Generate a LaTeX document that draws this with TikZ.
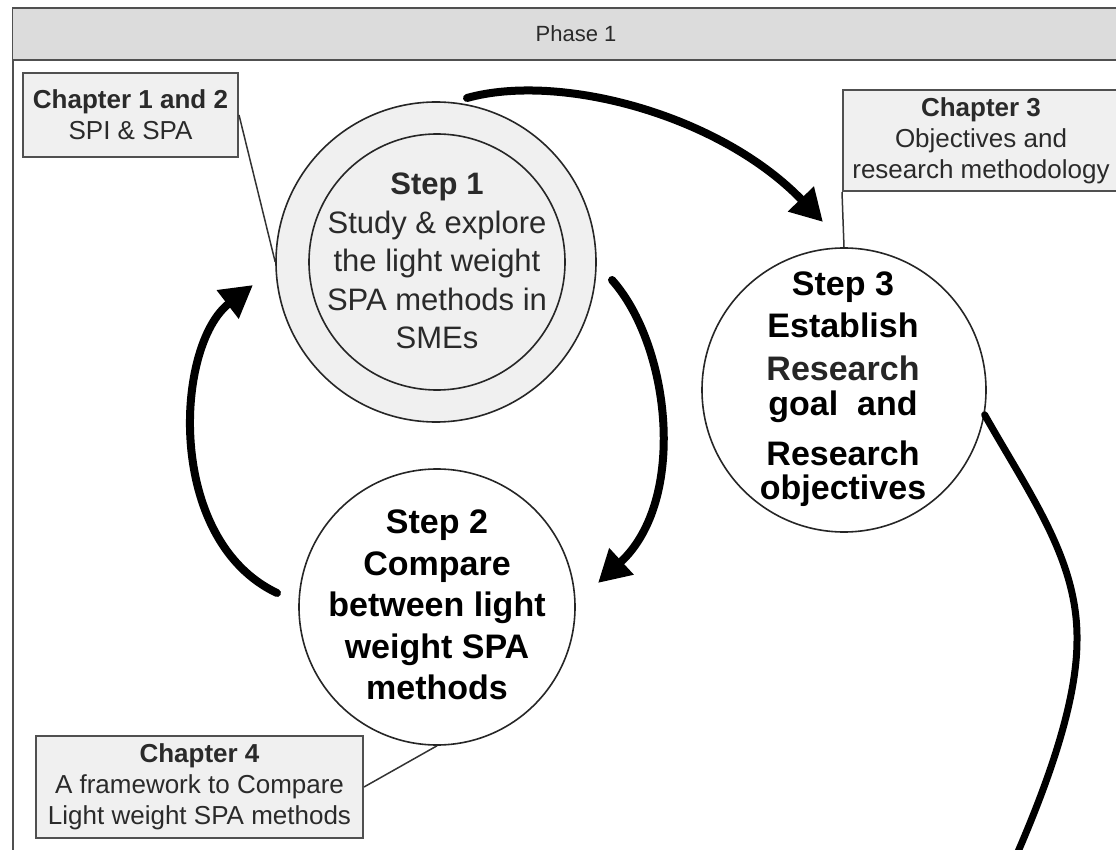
\documentclass[tikz,border=0pt]{standalone}
\usepackage{fontspec}
\setmainfont{Liberation Sans}
\usetikzlibrary{arrows.meta}

\definecolor{framegray}{HTML}{505050}
\definecolor{headfill}{HTML}{DCDCDC}
\definecolor{boxfill}{HTML}{F0F0F0}
\definecolor{inkgray}{HTML}{2A2A2A}

\tikzset{
  frameline/.style={draw=framegray, line width=2pt},
  chapbox/.style={draw=framegray, line width=2pt, fill=boxfill, rectangle,
    inner sep=0pt, align=center, text=inkgray,
    font=\fontsize{26pt}{31pt}\selectfont},
  stepcircle/.style={draw=black!85, line width=1.6pt, circle, inner sep=0pt},
  steptext/.style={align=center, inner sep=0pt},
  leader/.style={draw=black!80, line width=1.5pt},
  flow/.style={line width=8pt, line cap=round,
    -{Triangle[length=32pt,width=34pt]}},
  trail/.style={line width=7pt, line cap=round}
}

\begin{document}
\begin{tikzpicture}[x=1pt,y=-1pt]
\useasboundingbox (0,0) rectangle (1116,850);
\clip (0,0) rectangle (1116,850);

% phase frame with its title band
\draw[frameline] (13,900) -- (13,8) -- (1140,8);
\path[fill=headfill] (13,8) rectangle (1140,60);
\draw[frameline] (13,8) -- (1140,8);
\draw[draw=framegray, line width=2.5pt] (13,60) -- (1140,60);
\node[font=\fontsize{22pt}{26pt}\selectfont, text=inkgray] (phase) at (576,34) {Phase 1};

% step circles
\node[stepcircle, fill=boxfill, minimum size=320pt] (s1o) at (436,262) {};
\node[stepcircle, fill=boxfill, minimum size=256pt] (s1) at (437,262) {};
\node[steptext, text=inkgray, font=\fontsize{31pt}{38.5pt}\selectfont] (s1t) at (437,261)
  {\textbf{Step 1}\\Study \& explore\\the light weight\\SPA methods in\\SMEs};

\node[stepcircle, fill=white, minimum size=276pt] (s2) at (437,607) {};
\node[steptext, font=\bfseries\fontsize{34pt}{41.5pt}\selectfont] (s2t) at (437,605)
  {Step 2\\Compare\\between light\\weight SPA\\methods};

\node[stepcircle, fill=white, minimum size=284pt] (s3) at (844,390) {};
\node[steptext, font=\bfseries\fontsize{34pt}{34pt}\selectfont] (s3t) at (843,389)
  {Step 3\\[8pt]Establish\\[9pt]\textcolor{black!85}{Research}\\[1pt]goal\ \ and\\[16pt]Research\\objectives};

% chapter boxes
\node[chapbox, minimum width=215pt, minimum height=84pt] (ch12) at (130.5,115)
  {\textbf{Chapter 1 and 2}\\SPI \& SPA};
\node[chapbox, minimum width=276pt, minimum height=101pt] (ch3) at (981,140.5)
  {\textbf{Chapter 3}\\Objectives and\\research methodology};
\node[chapbox, minimum width=327pt, minimum height=102pt] (ch4) at (199.5,787)
  {\textbf{Chapter 4}\\A framework to Compare\\Light weight SPA methods};

% leaders from chapters to steps
\draw[leader] (ch12.east) -- (s1o.west);
\draw[leader] (ch3.south west) -- (s3.north);
\draw[leader] (ch4.east) -- (s2.south);

% flow arrows
\coordinate (a1s) at (467,98);
\coordinate (a1e) at (823,222);
\draw[flow] (a1s) .. controls (560,72) and (720,115) .. (a1e);

\coordinate (a2s) at (612,280);
\coordinate (a2e) at (598,583);
\draw[flow] (a2s) .. controls (670,345) and (688,500) .. (a2e);

\coordinate (a3s) at (277,593);
\coordinate (a3e) at (253,285);
\draw[flow] (a3s) .. controls (165,540) and (175,345) .. (a3e);

% trail leaving step 3
\coordinate (t1) at (1077,640);
\coordinate (t2) at (1010,870);
\draw[trail] (s3.-10) .. controls (1030,495) and (1078,560) .. (t1)
  .. controls (1077,700) and (1050,780) .. (t2);
\end{tikzpicture}
\end{document}
